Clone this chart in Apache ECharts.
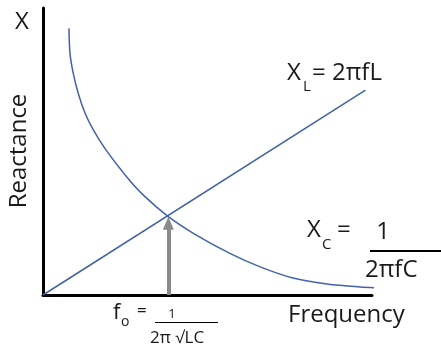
<!DOCTYPE html>
<html lang="en">
<head>
    <meta charset="UTF-8">
    <title>Reactance vs Frequency</title>
    <script src="https://cdn.jsdelivr.net/npm/echarts@6/dist/echarts.min.js"></script>
    <style>
        body { margin: 0; background: #fff; }
    </style>
</head>
<body>
    <div id="main" style="width: 441px;height:349px;"></div>
    <script type="text/javascript">
        // values (axis units 0..100)
        const inductiveX = [0, 98];
        const inductiveY = [0, 71.4];
        const capacitiveX = [7.9, 8.2, 9.2, 10.7, 12.8, 15.3, 18.8, 25.4, 30.5, 38.1, 45.7, 56.8, 66.0, 76.0, 86.3, 96.4, 104];
        const capacitiveY = [92.9, 84.2, 77.2, 70.3, 63.3, 57.5, 51.1, 41.2, 34.8, 27.3, 21.5, 14.5, 9.8, 5.9, 3.8, 2.8, 2.4];
        const resonanceArrow = [[38.1, 0], [38.1, 25]];

        const font = '"Open Sans", Lato, sans-serif';
        const blue = '#4262ab';

        let myChart = echarts.init(document.getElementById('main'));

        // text placed by its baseline (approximate for Open Sans)
        function txt(text, x, baseline, size, extra) {
            return {
                type: 'text',
                style: Object.assign({
                    text: text, x: x, y: baseline - 0.93 * size,
                    fontSize: size, fontFamily: font,
                    fill: '#1a1a1a', verticalAlign: 'top'
                }, extra || {})
            };
        }

        let options = {
            animation: false,
            grid: { left: 43, right: 69, top: 8, bottom: 54 },
            xAxis: {
                type: 'value', min: 0, max: 100,
                axisLine: { lineStyle: { color: '#000', width: 3 } },
                axisTick: { show: false }, axisLabel: { show: false }, splitLine: { show: false }
            },
            yAxis: {
                type: 'value', min: 0, max: 100,
                axisLine: { show: true, lineStyle: { color: '#000', width: 3 } },
                axisTick: { show: false }, axisLabel: { show: false }, splitLine: { show: false }
            },
            series: [
                {
                    name: 'XL', type: 'line', showSymbol: false, symbol: 'none',
                    data: inductiveX.map((x, i) => [x, inductiveY[i]]),
                    lineStyle: { color: blue, width: 1.5 }
                },
                {
                    name: 'XC', type: 'line', showSymbol: false, symbol: 'none',
                    smooth: 0.3, clip: false,
                    data: capacitiveX.map((x, i) => [x, capacitiveY[i]]),
                    lineStyle: { color: blue, width: 1.5 },
                    markLine: {
                        silent: true,
                        symbol: ['none', 'triangle'],
                        symbolSize: [11, 13],
                        label: { show: false },
                        lineStyle: { color: '#8a8a8a', width: 4, type: 'solid' },
                        data: [[{ coord: resonanceArrow[0] }, { coord: resonanceArrow[1] }]]
                    }
                }
            ],
            graphic: [
                txt('X', 15, 32, 24),
                {
                    type: 'text', rotation: Math.PI / 2, x: 19, y: 151,
                    style: { text: 'Reactance', fontSize: 24, fontFamily: font, fill: '#1a1a1a', align: 'center', verticalAlign: 'middle' }
                },
                txt('X', 287, 83, 24),
                txt('L', 303, 93, 15),
                txt('= 2\u03c0fL', 312, 83, 24),
                txt('X', 307, 240, 24),
                txt('C', 322, 251, 15),
                txt('=', 337, 240, 24),
                txt('1', 383, 242, 24, { align: 'center' }),
                { type: 'line', shape: { x1: 370, y1: 251, x2: 441, y2: 251 }, style: { stroke: '#000', lineWidth: 2 } },
                txt('2\u03c0fC', 365, 280, 24),
                txt('Frequency', 288, 325, 24),
                txt('f', 113, 322, 22),
                txt('o', 121, 328, 14),
                txt('=', 137, 318, 17),
                txt('1', 172, 320, 13, { align: 'center' }),
                { type: 'line', shape: { x1: 155, y1: 322.5, x2: 218, y2: 322.5 }, style: { stroke: '#000', lineWidth: 1 } },
                txt('2\u03c0 \u221aLC', 150, 345, 17)
            ]
        };
        myChart.setOption(options);
    </script>
</body>
</html>
